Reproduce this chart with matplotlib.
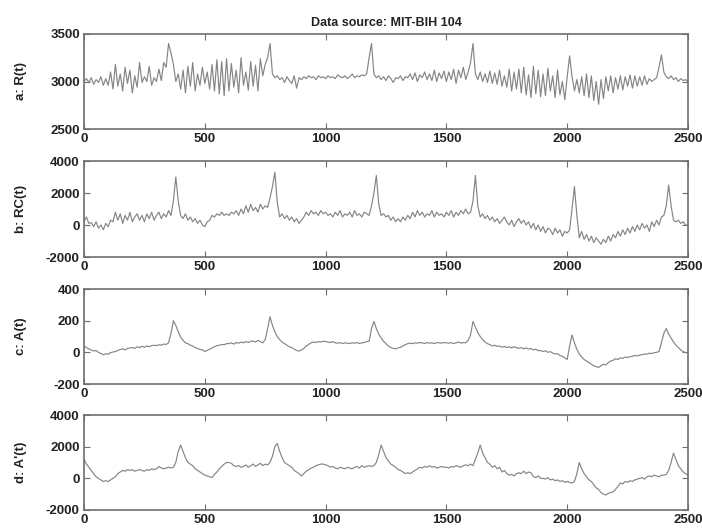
import numpy as np
import matplotlib
matplotlib.use("Agg")
import matplotlib.pyplot as plt

plt.rcParams['font.family'] = ['Liberation Sans', 'DejaVu Sans']
plt.rcParams['axes.unicode_minus'] = False

# sample index (every 10 samples, 0..2500)
t = list(range(0, 2501, 10))

R = [3000, 3030, 2990, 3040, 2970, 3020, 2990, 3050, 2960, 3030,
     2960, 3100, 2920, 3180, 2950, 3080, 2900, 3150, 2980, 3120,
     2880, 3060, 2940, 3200, 2990, 3050, 3000, 3160, 2960, 3040,
     3000, 3130, 3010, 3200, 3150, 3400, 3300, 3180, 3000, 3080,
     2920, 3120, 2880, 3160, 2950, 3200, 2900, 3080, 2960, 3150,
     2980, 3100, 2920, 3180, 2900, 3230, 2870, 3210, 2850, 3240,
     2900, 3190, 2940, 3120, 2880, 3250, 2960, 3100, 2910, 3210,
     2950, 3170, 2900, 3240, 3060, 3180, 3250, 3400, 3080, 3040,
     3060, 3020, 3040, 2990, 3050, 3010, 2980, 3060, 2930, 3040,
     3020, 3050, 3030, 3060, 3040, 3050, 3020, 3060, 3040, 3050,
     3030, 3060, 3040, 3050, 3030, 3070, 3050, 3040, 3060, 3030,
     3050, 3080, 3040, 3060, 3050, 3070, 3060, 3080, 3250, 3400,
     3080, 3040, 3060, 3020, 3050, 3010, 3060, 3030, 2990, 3040,
     3030, 3060, 3010, 3050, 3040, 3080, 3020, 3090, 3000, 3070,
     3040, 3100, 3020, 3080, 3010, 3120, 3000, 3090, 3030, 3110,
     3000, 3100, 3020, 3130, 2980, 3120, 3040, 3150, 3020, 3100,
     3200, 3400, 3080, 3020, 3100, 3000, 3080, 2990, 3110, 2980,
     3090, 2970, 3120, 2950, 3060, 2940, 3130, 2900, 3100, 2920,
     3130, 2880, 3150, 2860, 3070, 2830, 3160, 2870, 3120, 2840,
     3080, 2850, 3140, 2900, 3060, 2830, 3120, 2860, 3000, 2810,
     3050, 3270, 3050, 2900, 3020, 2880, 3050, 2850, 3080, 2830,
     3060, 2800, 3000, 2760, 3020, 2820, 3050, 2900, 3060, 2880,
     3040, 2920, 3060, 2910, 3050, 2950, 3070, 2930, 3060, 2950,
     3050, 2960, 3060, 2970, 3030, 3000, 3020, 3040, 3150, 3280,
     3100, 3050, 3030, 3060, 3020, 3040, 3000, 3030, 3010, 3020,
     3000]

RC = [200, 500, 100, 150, -100, 200, -200, 0, -300, 100,
      -100, 300, 200, 800, 300, 700, 100, 600, 300, 800,
      200, 500, 700, 300, 600, 200, 700, 400, 800, 300,
      600, 800, 400, 700, 500, 900, 600, 1500, 3000, 1500,
      600, 400, 700, 300, 500, 200, 400, 100, 300, 0,
      -100, 200, 300, 600, 500, 700, 600, 800, 600, 700,
      600, 800, 700, 900, 600, 1000, 700, 1200, 800, 1300,
      900, 1100, 800, 1300, 1000, 1200, 1100, 1700, 2400, 3300,
      1400, 500, 700, 400, 600, 300, 500, 200, 400, 100,
      300, 500, 800, 600, 900, 700, 800, 600, 900, 700,
      800, 600, 700, 500, 800, 600, 900, 500, 700, 600,
      800, 500, 900, 600, 700, 500, 800, 700, 600, 1200,
      2000, 3100, 1300, 600, 700, 500, 600, 300, 500, 200,
      400, 200, 500, 300, 600, 400, 800, 500, 900, 600,
      800, 500, 700, 600, 900, 500, 800, 600, 700, 500,
      800, 600, 900, 500, 800, 600, 900, 700, 1000, 700,
      800, 1500, 3100, 1200, 500, 700, 400, 600, 300, 500,
      200, 400, 100, 300, 500, 200, 0, 300, -100, 200,
      400, 100, 300, 0, 200, -200, 100, -300, 0, -400,
      -100, -500, -200, -300, -600, -200, -500, -300, -700, -400,
      -500, -300, 1000, 2400, 600, -800, -400, -900, -600, -1000,
      -700, -1100, -800, -1000, -1200, -900, -1100, -700, -1000, -600,
      -800, -400, -700, -300, -600, -200, -500, -100, -400, 0,
      -300, 100, -200, 0, -400, 200, -100, 300, 0, 500,
      600, 1200, 2500, 1200, 300, 200, 300, 100, 200, 0,
      0]

A = [40, 30, 22, 15, 8, 12, 0, -8, -15, -10,
     -12, -2, 2, 5, 12, 18, 22, 15, 25, 28,
     30, 25, 35, 30, 38, 32, 40, 36, 42, 45,
     42, 48, 45, 52, 50, 60, 120, 200, 170, 130,
     95, 75, 60, 55, 45, 40, 30, 25, 18, 15,
     5, 12, 20, 28, 35, 42, 45, 50, 48, 55,
     55, 60, 52, 62, 58, 65, 60, 68, 62, 70,
     72, 65, 75, 68, 60, 80, 150, 225, 170, 130,
     100, 80, 65, 55, 45, 35, 30, 20, 12, 8,
     15, 25, 40, 50, 60, 65, 62, 68, 65, 70,
     68, 65, 62, 68, 60, 58, 62, 55, 60, 58,
     55, 60, 58, 62, 55, 60, 62, 68, 70, 150,
     195, 150, 115, 90, 70, 55, 40, 30, 25, 22,
     28, 32, 40, 48, 55, 58, 55, 60, 58, 62,
     60, 55, 62, 58, 60, 55, 62, 60, 58, 62,
     60, 58, 62, 55, 60, 65, 58, 62, 60, 75,
     110, 195, 160, 125, 100, 80, 65, 55, 48, 40,
     45, 38, 40, 32, 38, 30, 35, 28, 35, 30,
     25, 30, 22, 28, 20, 25, 15, 20, 10, 12,
     5, 10, 0, 5, -5, -10, -8, -20, -25, -35,
     -45, 40, 110, 60, 20, -10, -30, -45, -55, -65,
     -75, -85, -90, -95, -85, -75, -80, -65, -55, -50,
     -40, -45, -35, -38, -30, -32, -28, -25, -20, -22,
     -18, -15, -10, -12, -5, -8, -2, 0, 5, 60,
     120, 150, 115, 90, 65, 45, 30, 15, 5, -2,
     -5]

A2 = [1200, 900, 700, 500, 300, 100, 0, -100, -200, -150,
      -200, -100, 0, 100, 300, 400, 500, 450, 550, 500,
      550, 450, 500, 550, 500, 450, 550, 500, 600, 550,
      600, 750, 650, 600, 650, 700, 650, 700, 1000, 1700,
      2100, 1700, 1300, 1000, 900, 800, 600, 500, 400, 300,
      200, 150, 100, 50, 250, 400, 600, 750, 900, 1000,
      1000, 950, 800, 750, 800, 700, 750, 850, 700, 800,
      900, 750, 850, 950, 800, 900, 850, 1000, 1400, 2000,
      2200, 1700, 1300, 1000, 900, 800, 700, 500, 400, 300,
      150, 300, 450, 550, 650, 700, 800, 850, 900, 900,
      850, 800, 700, 750, 650, 600, 700, 650, 600, 700,
      650, 600, 700, 750, 650, 800, 700, 750, 800, 750,
      800, 1000, 1500, 2100, 1700, 1300, 1100, 900, 800, 700,
      550, 500, 400, 300, 350, 300, 400, 500, 600, 700,
      650, 750, 700, 800, 700, 750, 650, 700, 750, 700,
      700, 650, 750, 700, 800, 750, 700, 800, 850, 800,
      900, 800, 1200, 1600, 2100, 1600, 1300, 1000, 900, 700,
      800, 600, 700, 400, 500, 300, 200, 250, 150, 300,
      350, 300, 450, 300, 400, 350, 100, 50, 150, 0,
      0, -50, 50, -100, -50, -150, -100, -200, -150, -250,
      -200, -250, -300, -200, 300, 1000, 600, 300, 100, -100,
      -200, -400, -600, -700, -900, -1000, -1050, -950, -900, -850,
      -700, -500, -300, -350, -200, -250, -150, -200, -100, -50,
      0, 50, -50, 100, 150, 100, 200, 150, 100, 200,
      200, 250, 500, 1000, 1600, 1200, 800, 600, 400, 300,
      200]

labels = ["a: R(t)", "b: RC(t)", "c: A(t)", "d: A'(t)"]
ylims = [(2500, 3500), (-2000, 4000), (-200, 400), (-2000, 4000)]
yticks = [[2500, 3000, 3500], [-2000, 0, 2000, 4000],
          [-200, 0, 200, 400], [-2000, 0, 2000, 4000]]
xticks = [0, 500, 1000, 1500, 2000, 2500]
title = "Data source: MIT-BIH 104"

W, H = 702, 529
fig = plt.figure(figsize=(W / 100, H / 100), dpi=100)
boxes = [(34, 129), (161, 257), (289, 384), (415, 510)]
series = [R, RC, A, A2]
frame_col = '#6e6e6e'
for i, (top, bot) in enumerate(boxes):
    ax = fig.add_axes([84 / W, 1 - bot / H, (688 - 84) / W, (bot - top) / H])
    ax.plot(t, series[i], color='#858585', lw=0.85)
    ax.set_xlim(0, 2500)
    ax.set_ylim(*ylims[i])
    ax.set_xticks(xticks)
    ax.set_yticks(yticks[i])
    ax.tick_params(direction='in', length=4, width=0.8, top=True, right=True,
                   color=frame_col, labelsize=9.5, pad=3)
    for lab in ax.get_xticklabels() + ax.get_yticklabels():
        lab.set_fontweight('bold')
        lab.set_color('#222222')
    for s in ax.spines.values():
        s.set_color(frame_col)
        s.set_linewidth(1.2)
    ax.set_ylabel(labels[i], fontsize=9.5, fontweight='bold', color='#222222')
    ax.yaxis.set_label_coords(-57 / 604, 0.5)
    if i == 0:
        ax.set_title(title, fontsize=9, fontweight='bold', color='#222222', pad=6)

fig.savefig("out.png", dpi=100)
